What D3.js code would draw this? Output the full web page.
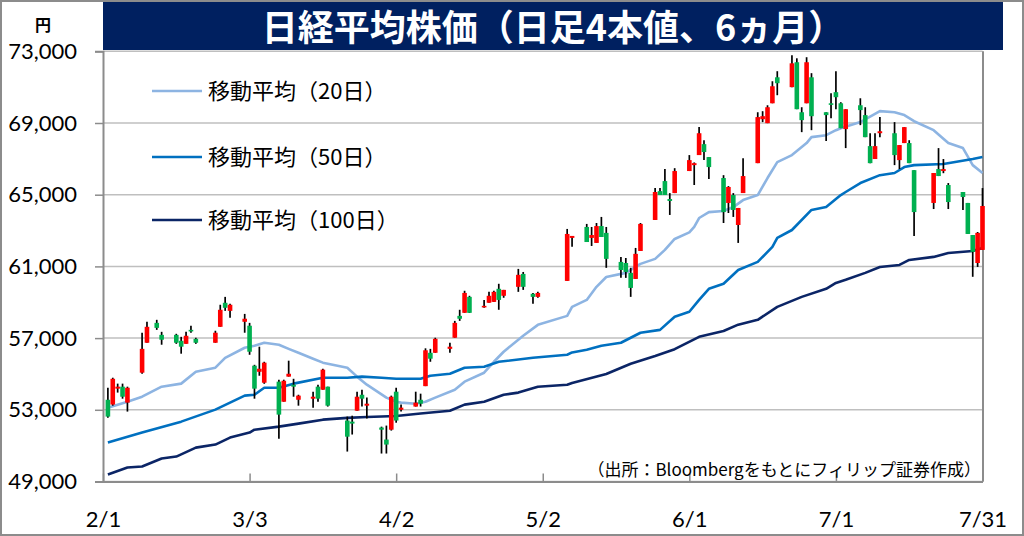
<!DOCTYPE html>
<html>
<head>
<meta charset="utf-8">
<script src="https://cdn.jsdelivr.net/npm/d3@7"></script>
<style>
  body { margin: 0; background: #fff; }
  svg { display: block; }
</style>
</head>
<body>
<div class="canvas"></div>
<script>
// candles (trading days, 2026)
const days = [
  "2/2","2/3","2/4","2/5","2/6","2/9","2/10","2/12","2/13","2/16","2/17","2/18","2/19","2/20","2/24","2/25","2/26","2/27",
  "3/2","3/3","3/4","3/5","3/6","3/9","3/10","3/11","3/12","3/13","3/16","3/17","3/18","3/19","3/23","3/24","3/25","3/26","3/27","3/30","3/31",
  "4/1","4/2","4/3","4/6","4/7","4/8","4/9","4/10","4/13","4/14","4/15","4/16","4/17","4/20","4/21","4/22","4/23","4/24","4/27","4/28","4/30",
  "5/1","5/7","5/8","5/11","5/12","5/13","5/14","5/15","5/18","5/19","5/20","5/21","5/22","5/25","5/26","5/27","5/28","5/29",
  "6/1","6/2","6/3","6/4","6/5","6/8","6/9","6/10","6/11","6/12","6/15","6/16","6/17","6/18","6/19","6/22","6/23","6/24","6/25","6/26","6/29","6/30",
  "7/1","7/2","7/3","7/6","7/7","7/8","7/9","7/10","7/13","7/14","7/15","7/16","7/17","7/21","7/22","7/23","7/24","7/27","7/28","7/29","7/30","7/31"
];
const opens = [
  53560,53290,54180,54290,53400,55070,56740,57850,57180,57180,56850,56680,57460,56960,56740,57630,58970,58520,
  57910,57690,55460,55120,54510,54570,53450,54850,54400,53560,53620,54290,54120,54290,52400,52340,52950,53840,53230,52010,51340,
  51890,54010,53000,53180,53560,54320,56180,56180,56400,57020,58240,58410,59300,58740,58970,59020,59750,59360,59860,60580,59470,
  59300,60190,62590,63200,62590,62310,63250,62870,61250,61190,60640,60300,61860,63590,65200,65760,64760,65090,
  66320,66650,67210,67820,67100,65930,64540,64980,63310,65090,66760,69210,68990,70100,71550,71000,72390,69600,70100,71550,69600,70100,
  70720,70100,68660,69990,69440,67710,66990,68430,68430,66930,67880,67880,66370,64540,66430,66320,65540,65150,64540,62750,61190,61920
];
const highs = [
  54230,54790,54460,54460,54290,57300,57910,58020,57350,57240,57070,57350,57690,57020,57410,58860,59300,58910,
  58350,57850,55510,56520,55680,54680,54680,55740,54730,53840,54010,54400,55290,54290,52620,52670,54010,54120,53680,52060,52120,
  53790,54230,53290,54010,53900,56430,56400,57020,56740,57960,58580,59640,59360,59130,59580,59640,60030,59690,60860,60690,59520,
  59580,63090,62700,63370,63200,63420,63760,63200,61530,61470,60920,62030,63420,65370,65370,66430,65090,66480,
  67210,66800,68770,68040,67100,66090,65480,65090,64260,67040,69600,69660,69990,71330,71890,72780,72610,69880,72670,71780,69600,70660,
  71890,70160,69770,70380,69880,68430,68430,69330,69050,67770,68770,68040,66370,66210,67600,66990,65650,65150,64540,62750,62920,65370
];
const lows = [
  52560,53230,53960,53620,52900,55010,56740,57460,56630,56680,56130,56680,57300,56680,56740,57630,58520,58130,
  57300,56070,53620,54900,54450,51390,53450,54850,53730,53230,53120,53450,54120,53180,50670,51620,52950,53180,52510,50560,50560,
  51840,52280,52900,53180,53180,54320,55680,56180,56180,57020,57960,58410,58400,58690,58970,59020,58580,59250,59580,59690,58910,
  59250,60190,62090,62360,62140,62310,62640,60920,60360,60360,59300,60300,61860,63590,64980,64980,63870,65090,
  66320,65540,67210,66930,65870,63420,63980,63760,62310,65090,66760,69050,68990,70100,70550,71000,69770,68490,70100,68600,67990,69270,
  69770,68710,67600,68880,68210,66760,66990,68210,66650,66430,67880,66760,62700,64200,66040,66200,64200,64150,62810,60420,60970,61920
];
const closes = [
  52620,54730,54290,53730,54230,56400,57630,57570,56910,56740,56520,57130,57410,56740,57300,58580,58690,58860,
  58080,56240,54180,55290,55630,52730,54620,55010,54290,53790,53730,53620,55240,53230,51500,52230,53730,53620,53340,51890,51060,
  53730,52400,53120,53400,53340,56320,55850,56960,56520,57850,58080,59520,58410,58800,59360,59580,59130,59690,60530,59860,59300,
  59520,62810,62700,62360,62750,63250,62640,61420,60800,60690,59800,61700,63370,65150,64980,64980,64650,66320,
  66930,66760,68430,67380,66540,64030,65430,64150,64260,66040,69330,69380,69880,71050,71220,72330,69770,69160,72390,69380,69440,70050,
  70440,68710,69770,69720,68210,66760,67710,68540,67210,67770,68770,66760,64030,66210,66040,66430,64590,64870,62810,61810,62870,64370
];

// moving averages
const ma20 = [
  ["2/2",53120],["2/6",53450],["2/9",53730],["2/13",54290],["2/17",54460],["2/20",55120],["2/24",55350],["2/26",55900],
  ["3/2",56460],["3/4",56570],["3/6",56740],["3/9",56630],["3/11",56400],["3/13",56180],["3/16",55850],["3/18",55630],
  ["3/23",55350],["3/25",54850],["3/27",54400],["3/31",53680],["4/2",53450],["4/3",53400],["4/6",53340],["4/8",53450],
  ["4/10",53680],["4/14",54120],["4/16",54570],["4/20",55070],["4/22",55680],["4/24",56240],["4/28",57130],["5/1",57740],
  ["5/7",58240],["5/8",58740],["5/11",59130],["5/13",59860],["5/15",60410],["5/19",60640],["5/21",60970],["5/22",61140],
  ["5/25",61420],["5/27",61920],["5/29",62530],["6/1",62900],["6/2",63200],["6/3",63700],["6/5",64030],["6/8",64090],
  ["6/10",64310],["6/12",64700],["6/15",64980],["6/17",65930],["6/19",66820],["6/22",67210],["6/25",67880],["6/26",68210],
  ["6/29",68320],["7/1",68600],["7/2",68710],["7/6",69050],["7/10",69660],["7/13",69600],["7/15",69440],["7/17",69100],
  ["7/21",68600],["7/24",67880],["7/27",67600],["7/29",66650],["7/31",66210]
];
const ma50 = [
  ["2/2",51170],["2/9",51730],["2/17",52340],["2/24",53010],["3/2",53790],["3/4",53840],["3/6",54230],["3/9",54230],
  ["3/12",54460],["3/18",54790],["3/23",54790],["3/26",54850],["3/30",54790],["4/2",54730],["4/7",54730],["4/9",54900],
  ["4/13",55010],["4/16",55350],["4/20",55400],["4/23",55680],["4/30",55900],["5/7",56070],["5/8",56200],["5/11",56350],
  ["5/14",56570],["5/18",56740],["5/22",57300],["5/26",57460],["5/29",58190],["6/1",58470],["6/3",59130],["6/5",59750],
  ["6/8",60030],["6/11",60800],["6/15",61250],["6/18",62090],["6/19",62590],["6/22",63030],["6/26",64150],["6/29",64310],
  ["7/2",64980],["7/3",65150],["7/6",65650],["7/10",66090],["7/13",66210],["7/15",66540],["7/17",66650],["7/23",66710],
  ["7/29",66990],["7/31",67100]
];
const ma100 = [
  ["2/2",49390],["2/6",49780],["2/9",49840],["2/13",50280],["2/16",50390],["2/20",50890],["2/24",51060],["2/27",51450],
  ["3/3",51730],["3/4",51890],["3/9",52060],["3/13",52230],["3/18",52450],["3/23",52550],["3/27",52600],["4/2",52650],
  ["4/7",52790],["4/13",52950],["4/16",53290],["4/20",53450],["4/24",53840],["4/27",53960],["5/1",54290],["5/7",54400],
  ["5/8",54500],["5/15",55000],["5/20",55570],["5/25",56000],["5/29",56380],["6/3",57070],["6/8",57400],["6/11",57750],
  ["6/15",58020],["6/19",58740],["6/24",59300],["6/29",59750],["7/1",60080],["7/3",60250],["7/7",60640],["7/10",60970],
  ["7/14",61080],["7/16",61360],["7/21",61530],["7/24",61750],["7/29",61860],["7/31",62030]
];

const yTicks = [49000, 53000, 57000, 61000, 65000, 69000, 73000];
const xTickLabels = ["2/1","3/3","4/2","5/2","6/1","7/1","7/31"];
const legendNames = ["移動平均（20日）","移動平均（50日）","移動平均（100日）"];

const dims = { width: 1024, height: 536 };
const plot = { left: 103, right: 982.5, top: 51.3, bottom: 481.5 };

const toDate = s => {
  const [m, d] = s.split('/').map(Number);
  return new Date(2026, m - 1, d);
};

const svg = d3.select('.canvas').append('svg')
  .attr('width', dims.width)
  .attr('height', dims.height);

const x = d3.scaleTime()
  .domain([toDate("2/1"), toDate("7/31")])
  .range([plot.left, plot.right]);

const y = d3.scaleLinear()
  .domain([49000, 73000])
  .range([plot.bottom, plot.top]);

// outer frame
svg.append('rect')
  .attr('x', 1).attr('y', 1)
  .attr('width', dims.width - 2).attr('height', dims.height - 2)
  .attr('fill', 'white')
  .attr('stroke', '#8c8c8c')
  .attr('stroke-width', 2);

// gridlines
svg.append('g')
  .selectAll('line')
  .data(yTicks)
  .enter().append('line')
    .attr('x1', plot.left).attr('x2', plot.right)
    .attr('y1', d => y(d)).attr('y2', d => y(d))
    .attr('stroke', '#bfbfbf')
    .attr('stroke-width', 1.5);

// y axis
const yAxis = svg.append('g')
  .attr('transform', `translate(${plot.left},0)`)
  .call(d3.axisLeft(y).tickValues(yTicks).tickSize(8).tickPadding(18).tickFormat(d3.format(',')));
yAxis.select('.domain').attr('stroke', '#8c8c8c').attr('stroke-width', 2);
yAxis.selectAll('.tick line').attr('stroke', '#8c8c8c').attr('stroke-width', 1.5);
yAxis.selectAll('text')
  .attr('fill', '#000')
  .style('font-family', 'Lato, "Noto Sans", sans-serif')
  .style('font-size', '22px');

// x axis (ticks point inward)
const xAxis = svg.append('g')
  .attr('transform', `translate(0,${plot.bottom})`)
  .call(d3.axisBottom(x).tickValues(xTickLabels.map(toDate)).tickSizeInner(-8).tickSizeOuter(0)
    .tickPadding(30).tickFormat((d, i) => xTickLabels[i]));
xAxis.select('.domain').attr('stroke', '#8c8c8c').attr('stroke-width', 2);
xAxis.selectAll('.tick line').attr('stroke', '#8c8c8c').attr('stroke-width', 1.5);
xAxis.selectAll('text')
  .attr('fill', '#000')
  .style('font-family', 'Lato, "Noto Sans", sans-serif')
  .style('font-size', '22px');

// right border of plot
svg.append('line')
  .attr('x1', plot.right + 0.5).attr('x2', plot.right + 0.5)
  .attr('y1', plot.top).attr('y2', plot.bottom)
  .attr('stroke', '#8c8c8c')
  .attr('stroke-width', 2);

// moving averages
const line = d3.line()
  .x(d => x(toDate(d[0])))
  .y(d => y(d[1]));

const maSeries = [
  { data: ma20, color: '#8db4e2' },
  { data: ma50, color: '#0070c0' },
  { data: ma100, color: '#0b2566' }
];

svg.append('g')
  .selectAll('path')
  .data(maSeries)
  .enter().append('path')
    .attr('d', d => line(d.data))
    .attr('fill', 'none')
    .attr('stroke', d => d.color)
    .attr('stroke-width', 2.6)
    .attr('stroke-linejoin', 'round');

// candles
const candles = days.map((d, i) => ({
  date: toDate(d), o: opens[i], h: highs[i], l: lows[i], c: closes[i]
}));

const candle = svg.append('g')
  .selectAll('g')
  .data(candles)
  .enter().append('g');

candle.append('line')
  .attr('x1', d => x(d.date)).attr('x2', d => x(d.date))
  .attr('y1', d => y(d.h)).attr('y2', d => y(d.l))
  .attr('stroke', '#000')
  .attr('stroke-width', 1.7);

candle.append('rect')
  .attr('x', d => x(d.date) - 2.3)
  .attr('width', 4.6)
  .attr('y', d => y(Math.max(d.o, d.c)))
  .attr('height', d => Math.max(1.6, Math.abs(y(d.o) - y(d.c))))
  .attr('fill', d => d.c >= d.o ? '#ff0000' : '#00b050'); // red = up

// title
svg.append('rect')
  .attr('x', 103).attr('y', 2)
  .attr('width', 900).attr('height', 48)
  .attr('fill', '#002060');

svg.append('text')
  .attr('x', 553).attr('y', 41)
  .attr('text-anchor', 'middle')
  .attr('fill', 'white')
  .style('font-family', '"Noto Sans CJK JP", sans-serif')
  .style('font-weight', 700)
  .style('font-size', '36px')
  .text('日経平均株価（日足4本値、6ヵ月）');

// unit
svg.append('text')
  .attr('x', 43).attr('y', 31)
  .attr('text-anchor', 'middle')
  .style('font-family', '"Noto Sans CJK JP", sans-serif')
  .style('font-weight', 700)
  .style('font-size', '16px')
  .text('円');

// legend
const legend = svg.append('g')
  .selectAll('g')
  .data(maSeries)
  .enter().append('g')
    .attr('transform', (d, i) => `translate(152, ${[91, 157, 220][i]})`);

legend.append('line')
  .attr('x1', 0).attr('x2', 50)
  .attr('stroke', d => d.color)
  .attr('stroke-width', 2.6);

legend.append('text')
  .attr('x', 56).attr('y', 8)
  .style('font-family', '"Noto Sans CJK JP", sans-serif')
  .style('font-size', '22px')
  .text((d, i) => legendNames[i]);

// source
svg.append('text')
  .attr('x', 981).attr('y', 476)
  .attr('text-anchor', 'end')
  .style('font-family', '"Noto Sans CJK JP", sans-serif')
  .style('font-size', '17px')
  .text('（出所：Bloombergをもとにフィリップ証券作成）');
</script>
</body>
</html>
